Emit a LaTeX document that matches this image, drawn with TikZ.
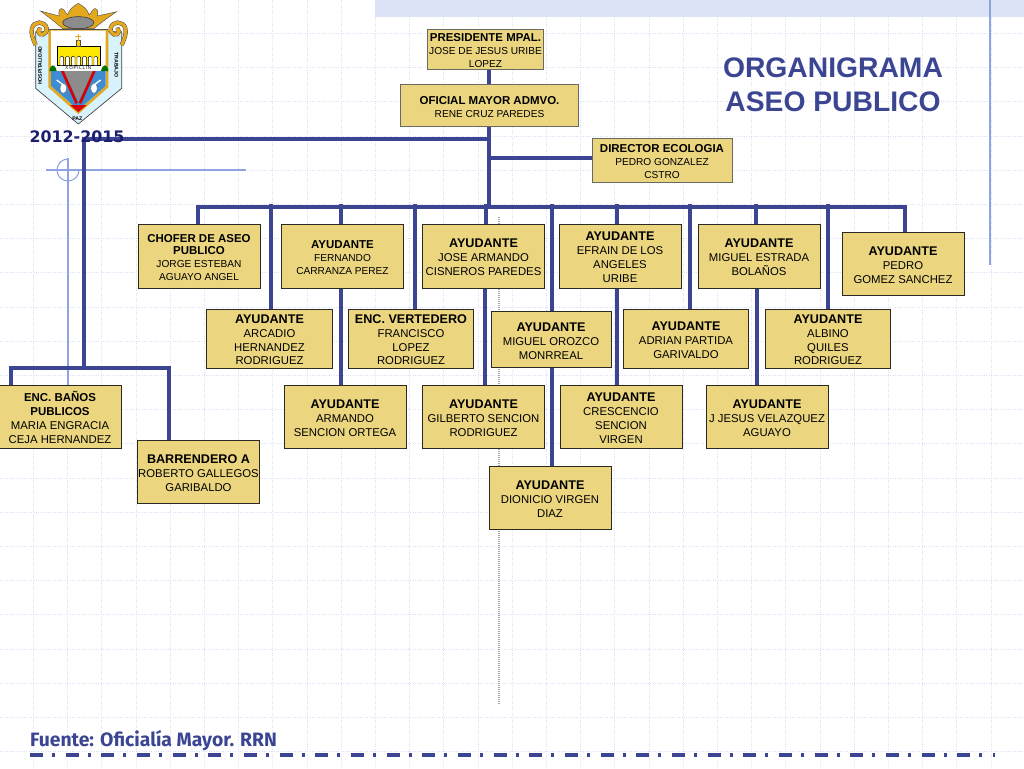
\documentclass[tikz,border=0pt]{standalone}
\usepackage{fontspec}
\setmainfont{Liberation Sans}
\newfontfamily\dejavu{DejaVu Sans}
\newfontfamily\fira{Fira Sans}
\definecolor{wireblue}{HTML}{3B4591}
\definecolor{boxfill}{HTML}{EBD67F}
\definecolor{boxline}{HTML}{2A2A22}
\definecolor{gridblue}{HTML}{D8DFF7}
\definecolor{bandblue}{HTML}{DCE3F7}
\definecolor{thinblue}{HTML}{8FA3E0}
\definecolor{navy}{HTML}{1B1F6E}
\definecolor{crest}{HTML}{E3A81E}
\newcommand{\ttl}[1]{{\fontsize{9.45}{10.4}\selectfont\bfseries\rule{0pt}{8.6pt}#1}}
\newcommand{\ttls}[1]{{\fontsize{8.6}{9.6}\selectfont\bfseries\rule{0pt}{8pt}#1}}
\pgfdeclarelayer{back}
\pgfdeclarelayer{wires}
\pgfsetlayers{back,wires,main}
\tikzset{
  orgbox/.style={draw=boxline, fill=boxfill, line width=0.75pt, rectangle, inner sep=0pt, align=center,
    minimum width=91.5pt, minimum height=47.25pt, font=\fontsize{8.5}{10.4}\selectfont},
  orgsmall/.style={orgbox, font=\fontsize{7.6}{9.6}\selectfont},
  rowtwo/.style={minimum width=94pt, minimum height=44.25pt},
  headbox/.style={draw=boxline!70},
  wire/.style={draw=wireblue, line width=2.9pt},
  thin deco/.style={draw=thinblue, line width=0.8pt},
  gridline/.style={draw=gridblue, line width=0.8pt, densely dotted}
}
\begin{document}
\begin{tikzpicture}[x=0.75pt,y=-0.75pt]
\useasboundingbox (0,0) rectangle (1024,768);

% background sheet
\begin{pgfonlayer}{back}
  \fill[white] (0,0) rectangle (1024,768);
  \foreach \k in {0,...,29} {
    \draw[gridline] ({33.5+34.2*\k},0) -- ({33.5+34.2*\k},768);
    \ifnum\k<22 \draw[gridline] (0,{33.5+34.2*\k}) -- (1024,{33.5+34.2*\k}); \fi
  }
  \fill[bandblue] (375,0) rectangle (1024,17);
  \draw[thin deco, line width=1.1pt] (990,0) -- (990,265);
  \draw[thin deco] (46,170) -- (246,170);
  \draw[thin deco] (68,158) -- (68,386);
  \draw[thin deco] (68,159) arc (-90:-360:11);
  \draw[draw=black!35, line width=0.8pt, dash pattern=on 0.8pt off 0.7pt] (499,217) -- (499,705);
\end{pgfonlayer}

% crest
\begin{scope}[shift={(20,0)},x=0.25pt,y=-0.25pt]
  \fill[crest, draw=black!70, line width=0.3pt] (61,33) -- (118,48)
    .. controls (112,32) and (122,18) .. (132,30) .. controls (136,38) and (140,42) .. (143,44)
    .. controls (148,28) and (160,18) .. (175,10) .. controls (190,18) and (202,28) .. (207,44)
    .. controls (210,42) and (214,38) .. (218,30) .. controls (228,18) and (238,32) .. (232,48)
    -- (290,35) .. controls (265,52) and (240,70) .. (222,86)
    -- (128,86) .. controls (110,70) and (85,50) .. (61,33) -- cycle;
  \fill[black!45, draw=black!80, line width=0.4pt] (175,68) ellipse (47 and 18);
  \fill[cyan!15, draw=black!75, line width=0.5pt] (47,95) -- (47,265) -- (175,372) -- (305,265) -- (305,95) -- cycle;
  \fill[crest] (85,88) -- (85,262) -- (175,342) -- (265,262) -- (265,88) -- cycle;
  \fill[white] (93,92) -- (93,258) -- (175,330) -- (257,258) -- (257,92) -- cycle;
  \draw[black!70, line width=0.6pt] (85,88) -- (265,88);
  \fill[cyan!60!blue!80] (93,213) -- (257,213) -- (257,258) -- (175,330) -- (93,258) -- cycle;
  \fill[green!45!black] (88,213) .. controls (92,190) and (105,190) .. (110,213) -- cycle;
  \fill[green!45!black] (243,213) .. controls (248,190) and (262,190) .. (265,213) -- cycle;
  \fill[black!45] (130,213) -- (220,213) -- (175,305) -- cycle;
  \draw[red!85!black, line width=2pt] (127,213) -- (170,310);
  \draw[red!85!black, line width=2pt] (223,213) -- (180,310);
  \fill[red!85!black] (150,315) -- (200,315) -- (175,336) -- cycle;
  \fill[yellow!90!orange, draw=black, line width=0.4pt] (112,138) rectangle (240,197);
  \fill[yellow!70!orange, draw=black!70, line width=0.3pt] (168,122) rectangle (182,138);
  \draw[crest, line width=0.8pt] (175,122) -- (175,102) (166,110) -- (184,110);
  \foreach \x in {120,137,154,171,188,205,222} {
    \fill[white, draw=black, line width=0.3pt] (\x,197) -- (\x,172) .. controls (\x,167) and ({\x+11},167) .. ({\x+11},172) -- ({\x+11},197) -- cycle;
  }
  \fill[white] (112,197) rectangle (240,212);
  \foreach \x/\nx in {130/110,222/242} {
    \fill[white, draw=black!60, line width=0.25pt] (\x,265) ellipse (10 and 15);
    \draw[white, line width=1pt] (\x,255) -- (\nx,240);
  }
  \foreach \c/\w in {black!70/3.2pt,crest/2.5pt} {
    \draw[\c, line width=\w] (47,135) .. controls (38,115) and (32,100) .. (36,85)
      .. controls (42,62) and (75,62) .. (80,85) .. controls (82,105) and (58,110) .. (55,95) .. controls (55,88) and (60,86) .. (64,90);
    \draw[\c, line width=\w] (305,135) .. controls (314,115) and (320,100) .. (316,85)
      .. controls (310,62) and (277,62) .. (272,85) .. controls (270,105) and (294,110) .. (297,95) .. controls (297,88) and (292,86) .. (288,90);
  }
  \node[rotate=90, font=\fontsize{3.9}{4}\selectfont\bfseries, inner sep=0pt] (motto a) at (60,197) {HOSPITALIDAD};
  \node[rotate=-90, font=\fontsize{3.9}{4}\selectfont\bfseries, inner sep=0pt] (motto b) at (289,195) {TRABAJO};
  \node[font=\fontsize{3.9}{4}\selectfont\bfseries, inner sep=0pt] (motto c) at (172,357) {PAZ};
  \node[font=\fontsize{3.4}{4}\selectfont, inner sep=0pt] (town) at (175,204) {X\,O\,P\,I\,L\,L\,I\,N};
\end{scope}

\node at (833,85) [align=center, text=wireblue, font=\fontsize{21.2}{25.5}\selectfont\bfseries] (titulo) {ORGANIGRAMA\\ASEO PUBLICO};

% top of the tree
\node at (485.5,49) [orgsmall, headbox, minimum width=86.5pt, minimum height=30pt] (pres) {\ttls{PRESIDENTE MPAL.}\\JOSE DE JESUS URIBE\\LOPEZ};
\node at (489.5,105.5) [orgsmall, headbox, minimum width=133pt, minimum height=31pt] (oficial) {\ttls{OFICIAL MAYOR ADMVO.}\\RENE CRUZ PAREDES};
\node at (662,160.5) [orgsmall, headbox, minimum width=105pt, minimum height=33.5pt] (ecologia) {\ttls{DIRECTOR ECOLOGIA}\\PEDRO GONZALEZ\\CSTRO};

% first row
\node at (199,256) [orgsmall, minimum height=48pt] (chofer) {\ttls{CHOFER DE ASEO}\\\ttls{PUBLICO}\\JORGE ESTEBAN\\AGUAYO ANGEL};
\node at (342.5,256) [orgsmall, minimum height=48pt] (fernando) {\ttls{AYUDANTE}\\FERNANDO\\CARRANZA PEREZ};
\node at (483.5,256) [orgbox, minimum height=48pt] (armandoj) {\ttl{AYUDANTE}\\JOSE ARMANDO\\CISNEROS PAREDES};
\node at (620,256) [orgbox, minimum height=48pt] (efrain) {\ttl{AYUDANTE}\\EFRAIN DE LOS\\ANGELES\\URIBE};
\node at (759,256) [orgbox, minimum height=48pt] (estrada) {\ttl{AYUDANTE}\\MIGUEL ESTRADA\\BOLAÑOS};
\node at (903,263.5) [orgbox] (pedro) {\ttl{AYUDANTE}\\PEDRO\\GOMEZ SANCHEZ};

% second row
\node at (269.5,338.5) [orgbox, rowtwo] (arcadio) {\ttl{AYUDANTE}\\ARCADIO\\HERNANDEZ\\RODRIGUEZ};
\node at (411,338.5) [orgbox, rowtwo] (vertedero) {\ttl{ENC. VERTEDERO}\\FRANCISCO\\LOPEZ\\RODRIGUEZ};
\node at (551,339.5) [orgbox, rowtwo, minimum width=90pt, minimum height=42.5pt] (orozco) {\ttl{AYUDANTE}\\MIGUEL OROZCO\\MONRREAL};
\node at (686,338.5) [orgbox, rowtwo] (adrian) {\ttl{AYUDANTE}\\ADRIAN PARTIDA\\GARIVALDO};
\node at (828,338.5) [orgbox, rowtwo] (albino) {\ttl{AYUDANTE}\\ALBINO\\QUILES\\RODRIGUEZ};

% third row
\node at (60,417) [orgbox] (banos) {\ttls{ENC. BAÑOS}\\\ttls{PUBLICOS}\\MARIA ENGRACIA\\CEJA HERNANDEZ};
\node at (345,417) [orgbox] (armando) {\ttl{AYUDANTE}\\ARMANDO\\SENCION ORTEGA};
\node at (483.5,417) [orgbox] (gilberto) {\ttl{AYUDANTE}\\GILBERTO SENCION\\RODRIGUEZ};
\node at (621,417) [orgbox] (crescencio) {\ttl{AYUDANTE}\\CRESCENCIO\\SENCION\\VIRGEN};
\node at (767,417) [orgbox] (jjesus) {\ttl{AYUDANTE}\\J JESUS VELAZQUEZ\\AGUAYO};

\node at (198.5,471.5) [orgbox] (barrendero) {\ttl{BARRENDERO A}\\ROBERTO GALLEGOS\\GARIBALDO};
\node at (550,497.5) [orgbox] (dionicio) {\ttl{AYUDANTE}\\DIONICIO VIRGEN\\DIAZ};

\coordinate (trunk) at (489,207);
\coordinate (busleft) at (198,207);
\coordinate (busright) at (905,207);
\coordinate (side) at (84,139);
\coordinate (sidebus) at (84,368);
\coordinate (baja) at (489,158);

\begin{pgfonlayer}{wires}
  \draw[wire] (trunk |- pres.south) -- (trunk);
  \draw[wire] (trunk |- side) -- (side) -- (sidebus);
  \draw[wire] (baja) -- (baja -| ecologia.west);
  \draw[wire] (busleft |- chofer.north) -- (busleft) -- (busright) -- (busright |- pedro.north);
  \draw[wire] (11,386) -- (11,368) -- (169,368) -- (169,440);
  \foreach \x/\to in {271/arcadio,341/fernando,415/vertedero,486/armandoj,552/orozco,617/efrain,690/adrian,756/estrada,828/albino} {
    \draw[wire] (\x,204) -- (\x,207 |- \to.north);
  }
  \foreach \x/\from/\to in {341/fernando/armando,485/armandoj/gilberto,552/orozco/dionicio,617/efrain/crescencio,757/estrada/jjesus} {
    \draw[wire] (\x,300 |- \from.south) -- (\x,300 |- \to.north);
  }
\end{pgfonlayer}

\node at (77,137) [text=navy, font=\dejavu\fontsize{11.9}{13}\selectfont\bfseries, inner sep=0pt] (periodo) {2012-2015};
\node at (153.5,741) [text=wireblue, font=\fira\fontsize{14.5}{16}\selectfont\bfseries, inner sep=0pt] (fuente) {Fuente: Oficialía Mayor. RRN};

\coordinate (pie a) at (30,755);
\coordinate (pie b) at (995,755);
\draw[wireblue, line width=2.4pt, dash pattern=on 9.75pt off 6.75pt on 2.25pt off 8pt] (pie a) -- (pie b);
\end{tikzpicture}
\end{document}
